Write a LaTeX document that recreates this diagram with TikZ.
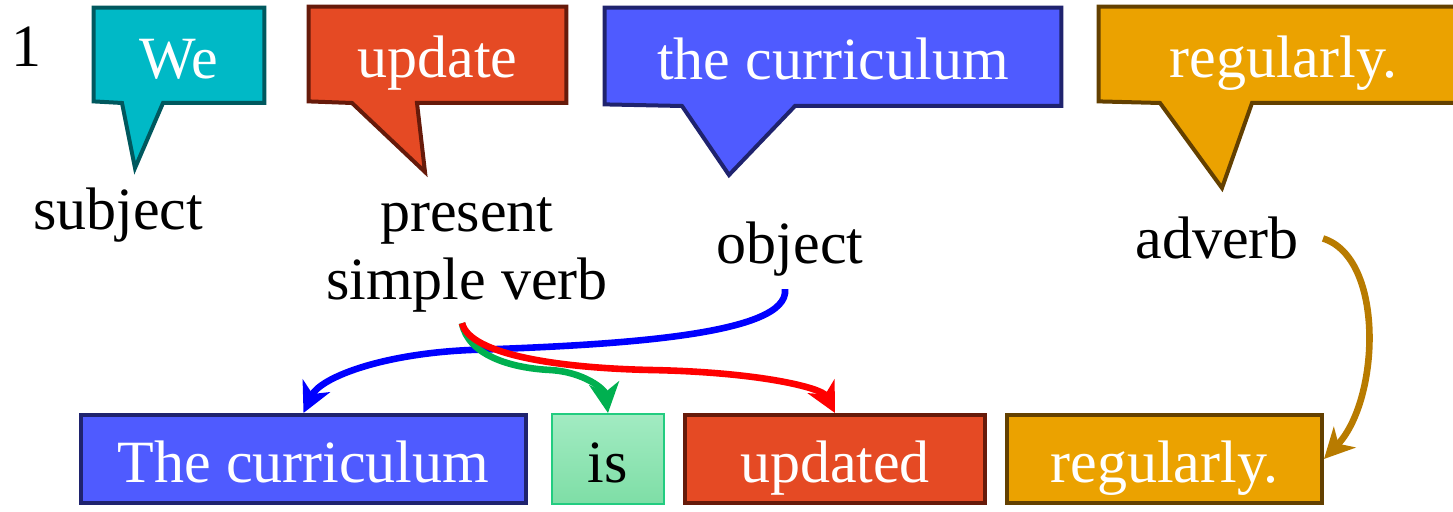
\documentclass[tikz,border=0pt]{standalone}
\usepackage{fontspec}
\setmainfont{Liberation Serif}
\usetikzlibrary{arrows.meta,backgrounds}

\definecolor{subjfill}{HTML}{00B9C6}
\definecolor{subjline}{HTML}{00585E}
\definecolor{verbfill}{HTML}{E54A24}
\definecolor{verbline}{HTML}{661A0A}
\definecolor{objfill}{HTML}{4F5BFF}
\definecolor{objline}{HTML}{1F236E}
\definecolor{advfill}{HTML}{EBA200}
\definecolor{advline}{HTML}{634000}
\definecolor{auxtop}{HTML}{A2EBC2}
\definecolor{auxbottom}{HTML}{7EDEA6}
\definecolor{auxline}{HTML}{22CC80}
\definecolor{objarrow}{HTML}{0000FF}
\definecolor{verbarrow}{HTML}{FF0000}
\definecolor{auxarrow}{HTML}{00B050}
\definecolor{advarrow}{HTML}{B87B00}

\begin{document}
\begin{tikzpicture}[
  x=0.5pt, y=-0.5pt,
  font=\fontsize{30}{34}\selectfont,
  word/.style={text=white, inner sep=0pt, text height=24pt, text depth=0pt},
  bubble/.style={line width=2pt, line join=miter},
  wordbox/.style={word, draw, line width=2pt, minimum height=44pt},
  tag/.style={align=center, inner sep=2pt},
  move/.style={-{Stealth[length=15pt, width=15pt, inset=4.5pt]}, line width=3.3pt}
]
  \useasboundingbox (0,0) rectangle (1453,512);

  \node[tag, anchor=base] (num) at (26,67) {1};

  % active sentence, one speech bubble per constituent
  \node[word, minimum width=85pt, minimum height=46.5pt] (we) at (179,54.5) {We};
  \node[word, minimum width=128.5pt, minimum height=47pt] (upd) at (437.5,54) {update};
  \node[word, minimum width=228pt, minimum height=48pt] (curr) at (833,56) {the curriculum};
  \node[word, minimum width=184.5pt, minimum height=47pt] (reg) at (1283.5,54) {regularly.};

  \begin{scope}[on background layer]
    \draw[bubble, fill=subjfill, draw=subjline] (we.south west) |- (we.north east)
      |- (163,103) -- (135,168) -- (122,103) -- cycle;
    \draw[bubble, fill=verbfill, draw=verbline] (upd.south west) |- (upd.north east)
      |- (417,103) -- (425,172) -- (352,103) -- cycle;
    \draw[bubble, fill=objfill, draw=objline] (curr.south west) |- (curr.north east)
      |- (795,106) -- (729,175) -- (682,106) -- cycle;
    \draw[bubble, fill=advfill, draw=advline] (reg.south west) |- (reg.north east)
      |- (1252,103) -- (1222,188) -- (1160,103) -- cycle;
  \end{scope}

  % grammar labels
  \node[tag, anchor=base] (subj) at (118,230) {subject};
  \node[tag, anchor=base] (verb) at (467,300) {present\\simple verb};
  \node[tag, anchor=base] (obj) at (790,264) {object};
  \node[tag, anchor=base] (adv) at (1217,259) {adverb};

  % passive sentence
  \node[wordbox, fill=objfill, draw=objline, minimum width=222.5pt] (currb) at (303.5,459) {The curriculum};
  \node[wordbox, text=black, top color=auxtop, bottom color=auxbottom, draw=auxline,
        line width=1pt, minimum width=56pt, minimum height=45pt] (isb) at (608,459) {is};
  \node[wordbox, fill=verbfill, draw=verbline, minimum width=150pt] (updb) at (835,459) {updated};
  \node[wordbox, fill=advfill, draw=advline, minimum width=157.5pt] (regb) at (1164.5,459) {regularly.};

  \coordinate (ostart) at ([xshift=-2.5pt, yshift=-4pt]obj.south);
  \coordinate (vstart) at ([xshift=-2.5pt, yshift=-3pt]verb.south);

  \draw[move, objarrow] (ostart) .. controls (790,335) and (620,345) .. (470,350)
    .. controls (380,354) and (320,378) .. (currb.north);
  \draw[move, auxarrow] (vstart) .. controls (468,355) and (510,368) .. (550,370)
    .. controls (585,372) and (605,390) .. (isb.north);
  \draw[move, verbarrow] (vstart) .. controls (470,355) and (560,368) .. (650,370)
    .. controls (760,372) and (822,388) .. (updb.north);
  \draw[move, advarrow] ([xshift=10pt]adv.east) .. controls (1385,258) and (1380,400) .. (regb.east);
\end{tikzpicture}
\end{document}
